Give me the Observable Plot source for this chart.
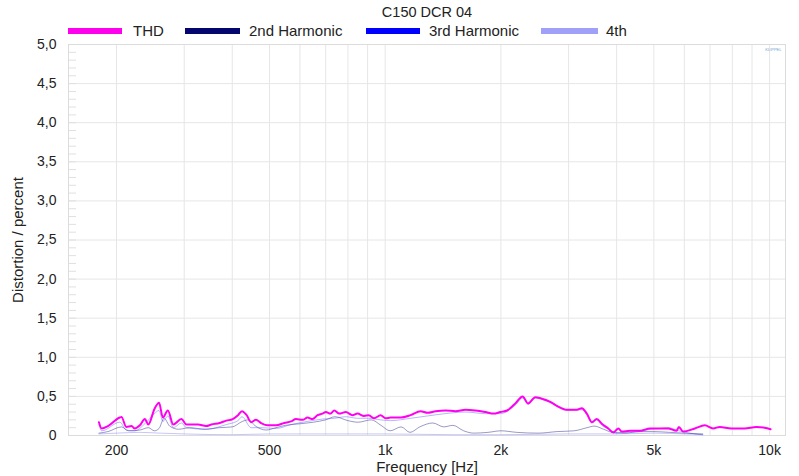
<!DOCTYPE html>
<html><head><meta charset="utf-8">
<script src="https://cdn.jsdelivr.net/npm/d3@7"></script>
<script src="https://cdn.jsdelivr.net/npm/@observablehq/plot@0.6"></script>
<style>
body{margin:0;background:#fff;font-family:"Liberation Sans",Arial,sans-serif;}
#wrap{position:relative;width:799px;height:476px;overflow:hidden}
#head{position:relative;height:38px}
.sub{position:absolute;top:4px;left:0;width:854px;text-align:center;font-size:14.5px;color:#222}
.sw{position:absolute;top:28px;height:6px}
.lt{position:absolute;top:22px;font-size:15px;color:#222}
svg{overflow:visible;display:block}
</style></head>
<body>
<div id="wrap">
  <div id="head">
    <div class="sub">C150 DCR 04</div>
    <div class="sw" style="left:68px;width:54px;background:#ff00ee"></div><div class="lt" style="left:133px">THD</div>
    <div class="sw" style="left:185px;width:55px;background:#050570"></div><div class="lt" style="left:249px">2nd Harmonic</div>
    <div class="sw" style="left:366px;width:54px;background:#0000ff"></div><div class="lt" style="left:429px">3rd Harmonic</div>
    <div class="sw" style="left:541px;width:57px;background:#a0a0f8"></div><div class="lt" style="left:606px">4th</div>
  </div>
  <div id="chart"></div>
</div>
<script>
// THD
const freqTHD = [180,183,190,204,206,212,219,223,230,237,242,251,258,264,272,281,295,304,326,342,353,371,386,401,414,424,436,448,461,475,495,520,546,569,586,610,628,647,667,687,701,720,737,759,790,822,847,881,906,935,973,1003,1033,1097,1164,1236,1289,1352,1435,1524,1618,1717,1823,1915,1993,2075,2181,2278,2352,2457,2557,2688,2797,2970,3153,3248,3346,3448,3552,3660,3806,3922,4043,4124,4335,4601,4884,5185,5447,5728,5807,5958,6390,6783,7128,7418,7955,8611,9236,9705,10060];
const thd = [0.17,0.09,0.12,0.23,0.235,0.11,0.12,0.09,0.13,0.21,0.14,0.34,0.42,0.23,0.32,0.14,0.21,0.14,0.14,0.12,0.14,0.16,0.19,0.21,0.26,0.31,0.26,0.17,0.20,0.16,0.13,0.13,0.16,0.18,0.21,0.20,0.23,0.21,0.26,0.28,0.30,0.28,0.32,0.28,0.30,0.26,0.28,0.25,0.26,0.22,0.26,0.22,0.23,0.23,0.26,0.31,0.29,0.31,0.32,0.31,0.33,0.32,0.30,0.28,0.30,0.32,0.41,0.50,0.41,0.49,0.47,0.43,0.38,0.33,0.33,0.35,0.28,0.17,0.21,0.15,0.09,0.04,0.09,0.05,0.06,0.06,0.09,0.09,0.09,0.06,0.11,0.05,0.09,0.13,0.09,0.11,0.09,0.09,0.11,0.10,0.08];
// 2nd harmonic
const freq2 = [180,190,206,215,230,242,251,258,266,275,290,310,340,370,400,425,440,460,490,520,550,600,650,700,740,800,850,920,975,1030,1100,1160,1230,1330,1420,1500,1600,1700,1850,2000,2200,2500,2800,3100,3350,3500,3700,3900,4200,4600,5000,5500,6000,6700];
const h2 = [0.03,0.05,0.11,0.06,0.07,0.10,0.06,0.09,0.22,0.12,0.08,0.10,0.08,0.10,0.11,0.18,0.20,0.12,0.07,0.10,0.13,0.15,0.17,0.20,0.24,0.19,0.17,0.20,0.13,0.06,0.11,0.04,0.11,0.16,0.11,0.13,0.06,0.03,0.04,0.06,0.04,0.03,0.05,0.06,0.10,0.12,0.08,0.04,0.03,0.05,0.05,0.04,0.03,0.02];
// 3rd harmonic
const freq3 = [180,183,204,212,223,237,251,258,264,272,281,295,304,342,386,414,424,448,475,520,569,628,687,737,790,847,906,973,1033,1164,1289,1435,1618,1823,1993,2181,2278,2352,2457,2688,2970,3248,3346,3448,3552,3660,3806,3922,4124,4601,4884,5185,5447,5807,6200,6700];
const h3 = [0.14,0.06,0.17,0.07,0.06,0.15,0.28,0.32,0.18,0.25,0.10,0.16,0.10,0.08,0.14,0.19,0.24,0.10,0.10,0.09,0.14,0.18,0.21,0.22,0.24,0.22,0.22,0.20,0.19,0.22,0.25,0.28,0.30,0.28,0.28,0.39,0.48,0.40,0.48,0.42,0.32,0.33,0.27,0.16,0.20,0.13,0.08,0.03,0.04,0.05,0.08,0.09,0.10,0.06,0.03,0.01];
// 4th harmonic
const freq4 = [180,200,230,260,300,400,500,700,1000,1500,2000,3000,4000,5000,6000,6700];
const h4 = [0.02,0.03,0.04,0.03,0.02,0.01,0.02,0.02,0.02,0.01,0.01,0.02,0.02,0.03,0.02,0.01];

const xTicks = [200,500,1000,2000,5000,10000];
const xGrid = [200,300,400,500,600,700,800,900,1000,2000,3000,4000,5000,6000,7000,8000,9000,10000];
const yTicks = [0,0.5,1,1.5,2,2.5,3,3.5,4,4.5,5];
const yMinor = d3.range(0,51).map(i=>i/10);
const fmtX = d => d>=1000 ? (d/1000)+"k" : String(d);
const fmtY = d => d===0 ? "0" : d.toFixed(1).replace(".",",");

const rows = (f,v) => f.map((d,i)=>({f:d,v:v[i]}));

const chart = Plot.plot({
  width:799, height:438,
  marginTop:6, marginBottom:41, marginLeft:68, marginRight:14,
  style:{fontFamily:"'Liberation Sans', Arial, sans-serif", fontSize:"14px", color:"#222", overflow:"visible", background:"#fff"},
  x:{type:"log", domain:[150,11000], axis:null},
  y:{domain:[0,5]},
  marks:[
    Plot.gridX(xGrid,{stroke:"#e6e6e6", strokeOpacity:1}),
    Plot.gridY(yTicks,{stroke:"#e6e6e6", strokeOpacity:1}),
    Plot.axisY(yMinor,{tickSize:-8, text:null, stroke:"#e0e0e0", label:null}),
    Plot.axisY(yTicks,{tickSize:0, tickPadding:12, tickFormat:fmtY, label:null}),
    Plot.text(xTicks,{x:d=>d, frameAnchor:"bottom", dy:15, lineAnchor:"middle", text:fmtX, fill:"#222", fontSize:14}),
    Plot.text(["Frequency [Hz]"],{frameAnchor:"bottom", dy:32, lineAnchor:"middle", textAnchor:"middle", fill:"#222", fontSize:15}),
    Plot.text(["Distortion / percent"],{frameAnchor:"left", dx:-50, rotate:-90, lineAnchor:"middle", textAnchor:"middle", fill:"#222", fontSize:15}),
    Plot.frame({stroke:"#dcdcdc"}),
    Plot.text(["KLIPPEL"],{frameAnchor:"top-right", dx:-4, dy:4, fontSize:4, fill:"#6fa6d6"}),
    Plot.line(rows(freq4,h4),{x:"f",y:"v",stroke:"#a0a0f8",strokeWidth:1,strokeOpacity:0.6,curve:"monotone-x"}),
    Plot.line(rows(freq2,h2),{x:"f",y:"v",stroke:"#050570",strokeWidth:0.9,strokeOpacity:0.45,curve:"monotone-x"}),
    Plot.line(rows(freq3,h3),{x:"f",y:"v",stroke:"#3030ff",strokeWidth:0.9,strokeOpacity:0.4,curve:"monotone-x"}),
    Plot.line(rows(freqTHD,thd),{x:"f",y:"v",stroke:"#ff00ee",strokeWidth:2,curve:"monotone-x"})
  ]
});
document.getElementById("chart").appendChild(chart);
</script>
</body></html>
